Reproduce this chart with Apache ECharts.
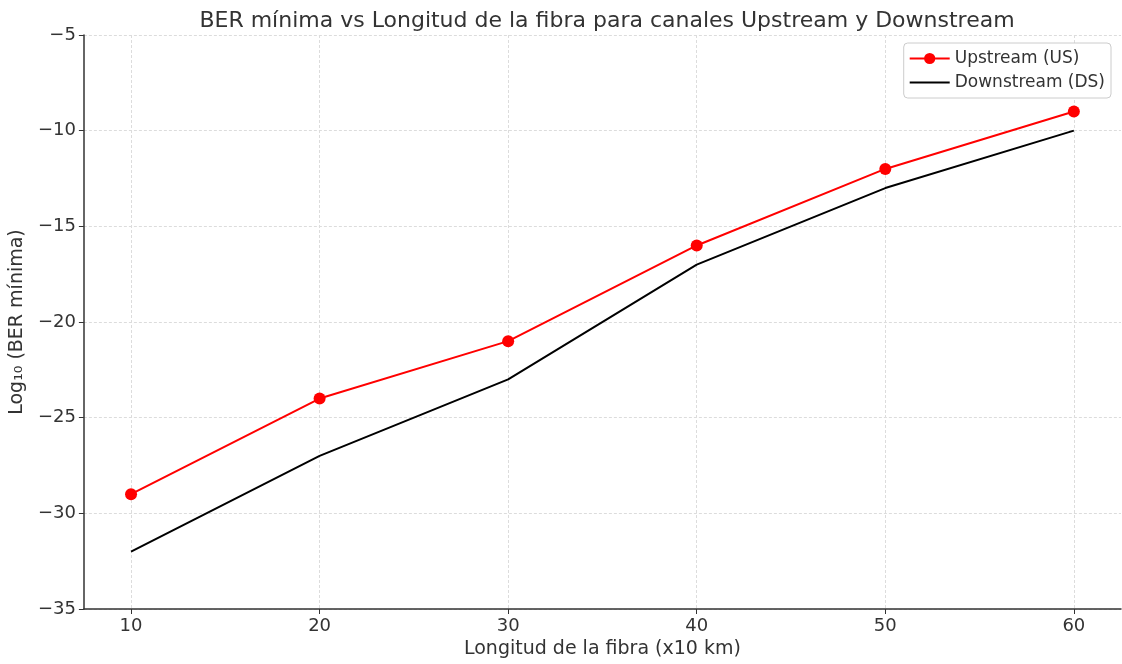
<!DOCTYPE html>
<html>
<head>
<meta charset="utf-8">
<script src="https://cdn.jsdelivr.net/npm/echarts@6/dist/echarts.min.js"></script>
<style>
  html, body { margin: 0; padding: 0; background: #fff; }
  #chart { width: 1122px; height: 664px; }
</style>
</head>
<body>
<div id="chart"></div>
<script>
// data
const longitudes = [10, 20, 30, 40, 50, 60]
const upstream = [-29, -24, -21, -16, -12, -9]
const downstream = [-32, -27, -23, -17, -13, -10]
const xTicks = [10, 20, 30, 40, 50, 60]

const chart = echarts.init(document.getElementById('chart'))
const font = 'DejaVu Sans'

chart.setOption({
  backgroundColor: '#fff',
  animation: false,
  textStyle: { fontFamily: font },
  title: {
    text: 'BER mínima vs Longitud de la fibra para canales Upstream y Downstream',
    left: 602,
    textAlign: 'center',
    top: 5,
    textStyle: { fontSize: 22, fontWeight: 'normal', color: '#333', fontFamily: font },
  },
  grid: { left: 83, right: 1, top: 35, bottom: 53, containLabel: false },
  legend: {
    orient: 'vertical',
    right: 11,
    top: 43,
    padding: [7, 6, 7, 5],
    itemGap: 7,
    itemWidth: 40,
    itemHeight: 14,
    backgroundColor: '#fff',
    borderColor: '#ccc',
    borderWidth: 1,
    borderRadius: 4,
    lineStyle: { width: 2 },
    textStyle: { fontSize: 17, color: '#333', fontFamily: font },
    data: [
      { name: 'Upstream (US)' },
      { name: 'Downstream (DS)', itemStyle: { opacity: 0 } },
    ],
  },
  xAxis: {
    type: 'value',
    min: 7.5,
    max: 62.5,
    name: 'Longitud de la fibra (x10 km)',
    nameLocation: 'middle',
    nameGap: 31,
    nameTextStyle: { fontSize: 19, color: '#333' },
    axisLine: { show: true, lineStyle: { color: '#333', width: 1.5 } },
    axisTick: { show: true, inside: false, length: 5, customValues: xTicks, lineStyle: { color: '#333' } },
    axisLabel: { customValues: xTicks, fontSize: 18, color: '#333', margin: 8 },
    splitLine: { show: true, lineStyle: { color: '#dcdcdc', type: [3, 2], width: 1 } },
  },
  yAxis: {
    type: 'value',
    min: -35,
    max: -5,
    interval: 5,
    name: 'Log₁₀ (BER mínima)',
    nameLocation: 'middle',
    nameGap: 55,
    nameTextStyle: { fontSize: 19, color: '#333' },
    axisLine: { show: true, lineStyle: { color: '#333', width: 1.5 } },
    axisTick: { show: true, inside: false, length: 5, lineStyle: { color: '#333' } },
    axisLabel: {
      fontSize: 18,
      color: '#333',
      margin: 8,
      formatter: v => (v < 0 ? '\u2212' + Math.abs(v) : String(v)),
    },
    splitLine: { show: true, lineStyle: { color: '#dcdcdc', type: [3, 2], width: 1 } },
  },
  series: [
    {
      name: 'Upstream (US)',
      type: 'line',
      data: longitudes.map((x, i) => [x, upstream[i]]),
      symbol: 'circle',
      symbolSize: 12,
      showAllSymbol: true,
      lineStyle: { color: '#ff0000', width: 2 },
      itemStyle: { color: '#ff0000' },
      z: 3,
    },
    {
      name: 'Downstream (DS)',
      type: 'line',
      data: longitudes.map((x, i) => [x, downstream[i]]),
      symbol: 'none',
      lineStyle: { color: '#000', width: 2 },
      itemStyle: { color: '#000' },
      z: 2,
    },
  ],
})
</script>
</body>
</html>
